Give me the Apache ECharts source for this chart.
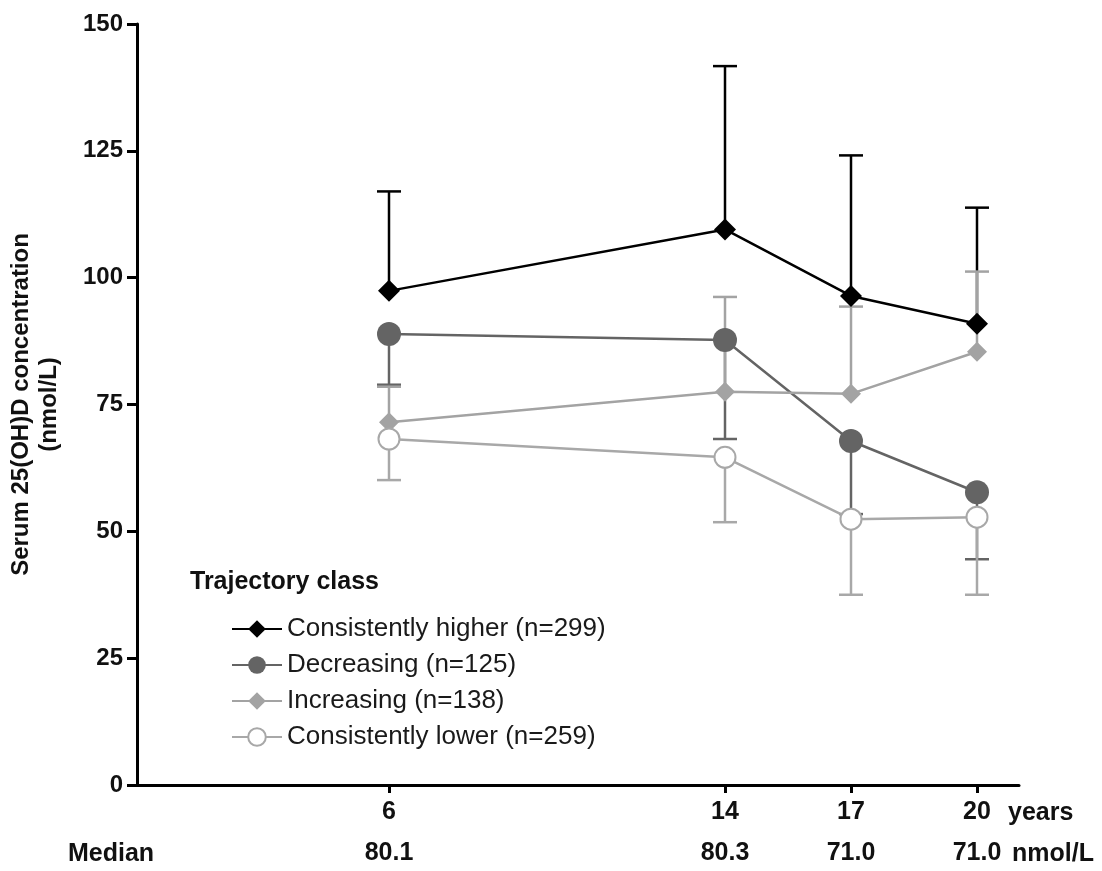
<!DOCTYPE html>
<html>
<head>
<meta charset="utf-8">
<script src="https://cdn.jsdelivr.net/npm/echarts@6/dist/echarts.min.js"></script>
<style>
  html, body { margin: 0; padding: 0; background: #fff; }
  #chart { width: 1102px; height: 871px; }
</style>
</head>
<body>
<div id="chart"></div>
<script>
// age at measurement (years) and median per wave
const years = [6, 14, 17, 20]
const medians = ['80.1', '80.3', '71.0', '71.0']
const yTicks = [0, 25, 50, 75, 100, 125, 150]

// mean values and the one-sided error bar ends
const higher = [97.4, 109.5, 96.4, 90.9]
const higherUpper = [117.0, 141.7, 124.1, 113.8]
const decreasing = [88.9, 87.7, 67.8, 57.7]
const decreasingLower = [78.9, 68.2, 53.4, 44.5]
const increasing = [71.5, 77.5, 77.1, 85.4]
const increasingUpper = [78.5, 96.2, 94.3, 101.2]
const lower = [68.2, 64.6, 52.4, 52.8]
const lowerLower = [60.1, 51.8, 37.5, 37.5]

const names = [
  'Consistently higher (n=299)',
  'Decreasing (n=125)',
  'Increasing (n=138)',
  'Consistently lower (n=259)'
]

const font = 'Liberation Sans, Arial, sans-serif'

function pairs(vals) {
  return years.map((x, i) => [x, vals[i]])
}

function errData(means, ends) {
  return years.map((x, i) => [x, means[i], ends[i]])
}

// one-sided error bar: line from the mean to the end, cap at the end
function errSeries(name, means, ends, color) {
  return {
    name: name,
    type: 'custom',
    silent: true,
    data: errData(means, ends),
    renderItem: function(params, api) {
      const p0 = api.coord([api.value(0), api.value(1)])
      const p1 = api.coord([api.value(0), api.value(2)])
      const half = 12
      const style = { stroke: color, lineWidth: 2.5 }
      return {
        type: 'group',
        children: [
          { type: 'line', shape: { x1: p0[0], y1: p0[1], x2: p1[0], y2: p1[1] }, style: style },
          { type: 'line', shape: { x1: p1[0] - half, y1: p1[1], x2: p1[0] + half, y2: p1[1] }, style: style }
        ]
      }
    }
  }
}

function lineSeries(name, vals, color, symbol, size, fill) {
  return {
    name: name,
    type: 'line',
    data: pairs(vals),
    symbol: symbol,
    symbolSize: size,
    showAllSymbol: true,
    lineStyle: { color: color, width: 2.5 },
    itemStyle: { color: fill || color, borderColor: color, borderWidth: fill ? 2 : 0 }
  }
}

const chart = echarts.init(document.getElementById('chart'))
chart.setOption({
  animation: false,
  grid: { left: 137, right: 83, top: 24, bottom: 86, outerBoundsMode: 'none', containLabel: false },
  legend: {
    data: names,
    orient: 'vertical',
    left: 226,
    top: 611,
    itemWidth: 50,
    itemHeight: 22,
    itemGap: 10,
    itemTextGap: 8,
    textStyle: { fontFamily: font, fontSize: 26, color: '#1a1a1a' },
    selectedMode: false
  },
  graphic: [
    { type: 'text', left: 190, top: 570, style: { text: 'Trajectory class', font: 'bold 25px ' + font, fill: '#111' } },
    { type: 'text', left: 1008, top: 801, style: { text: 'years', font: 'bold 25px ' + font, fill: '#111' } },
    { type: 'text', left: 68, top: 842, style: { text: 'Median', font: 'bold 25px ' + font, fill: '#111' } },
    { type: 'text', left: 1012, top: 842, style: { text: 'nmol/L', font: 'bold 25px ' + font, fill: '#111' } }
  ],
  xAxis: {
    type: 'value',
    min: 0,
    max: 21,
    splitLine: { show: false },
    axisLine: { lineStyle: { color: '#000', width: 3 } },
    axisTick: { customValues: years, length: 8, lineStyle: { color: '#000', width: 3 } },
    axisLabel: {
      customValues: years,
      margin: 13,
      formatter: function(v) {
        const i = years.indexOf(v)
        return '{a|' + v + '}\n{b|' + medians[i] + '}'
      },
      rich: {
        a: { fontFamily: font, fontWeight: 'bold', fontSize: 25, color: '#111', lineHeight: 28 },
        b: { fontFamily: font, fontWeight: 'bold', fontSize: 25, color: '#111', lineHeight: 54 }
      }
    }
  },
  yAxis: {
    type: 'value',
    min: yTicks[0],
    max: yTicks[yTicks.length - 1],
    interval: 25,
    name: 'Serum 25(OH)D concentration\n(nmol/L)',
    nameLocation: 'middle',
    nameGap: 74,
    nameTextStyle: { fontFamily: font, fontWeight: 'bold', fontSize: 24, color: '#111', lineHeight: 28 },
    splitLine: { show: false },
    axisLine: { show: true, lineStyle: { color: '#000', width: 3 } },
    axisTick: { show: true, length: 10, lineStyle: { color: '#000', width: 3 } },
    axisLabel: { margin: 14, fontFamily: font, fontWeight: 'bold', fontSize: 24, color: '#111' }
  },
  series: [
    errSeries('err1', higher, higherUpper, '#000000'),
    lineSeries(names[0], higher, '#000000', 'diamond', 22),
    errSeries('err2', decreasing, decreasingLower, '#646464'),
    lineSeries(names[1], decreasing, '#646464', 'circle', 24),
    errSeries('err3', increasing, increasingUpper, '#a3a3a3'),
    lineSeries(names[2], increasing, '#a3a3a3', 'diamond', 20),
    errSeries('err4', lower, lowerLower, '#a8a8a8'),
    lineSeries(names[3], lower, '#a8a8a8', 'circle', 21, '#ffffff')
  ]
})
</script>
</body>
</html>
